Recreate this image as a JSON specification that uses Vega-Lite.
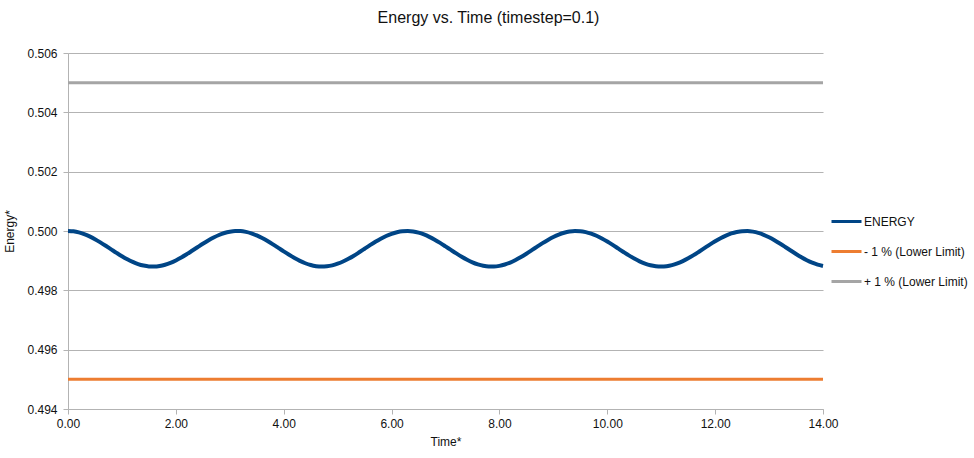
{
  "$schema": "https://vega.github.io/schema/vega-lite/v6.json",
  "autosize": "none",
  "width": 755,
  "height": 356,
  "padding": {"left": 68, "top": 53, "right": 151, "bottom": 49},
  "background": "white",
  "title": {
    "text": "Energy vs. Time (timestep=0.1)",
    "font": "Liberation Sans",
    "fontSize": 16,
    "fontWeight": "normal",
    "color": "#111111",
    "anchor": "middle",
    "dx": 43,
    "offset": 21
  },
  "config": {
    "view": {"stroke": null},
    "axis": {
      "labelFont": "Liberation Sans",
      "titleFont": "Liberation Sans",
      "labelFontSize": 12,
      "titleFontSize": 12,
      "titleFontWeight": "normal",
      "labelColor": "#111111",
      "titleColor": "#111111",
      "domainColor": "#b3b3b3",
      "tickColor": "#b3b3b3",
      "gridColor": "#b3b3b3",
      "tickSize": 5,
      "labelFlush": false,
      "labelOverlap": false
    },
    "legend": {
      "labelFont": "Liberation Sans",
      "labelFontSize": 12,
      "labelColor": "#111111"
    }
  },
  "data": {
    "values": [
      {"t": 0.0, "e": 0.500000}, {"t": 0.1, "e": 0.499988}, {"t": 0.2, "e": 0.499953}, {"t": 0.3, "e": 0.499895},
      {"t": 0.4, "e": 0.499818}, {"t": 0.5, "e": 0.499724}, {"t": 0.6, "e": 0.499617}, {"t": 0.7, "e": 0.499502},
      {"t": 0.8, "e": 0.499383}, {"t": 0.9, "e": 0.499264}, {"t": 1.0, "e": 0.499150}, {"t": 1.1, "e": 0.499047},
      {"t": 1.2, "e": 0.498958}, {"t": 1.3, "e": 0.498886}, {"t": 1.4, "e": 0.498835}, {"t": 1.5, "e": 0.498806},
      {"t": 1.6, "e": 0.498801}, {"t": 1.7, "e": 0.498820}, {"t": 1.8, "e": 0.498862}, {"t": 1.9, "e": 0.498925},
      {"t": 2.0, "e": 0.499008}, {"t": 2.1, "e": 0.499106}, {"t": 2.2, "e": 0.499216}, {"t": 2.3, "e": 0.499333},
      {"t": 2.4, "e": 0.499452}, {"t": 2.5, "e": 0.499570}, {"t": 2.6, "e": 0.499681}, {"t": 2.7, "e": 0.499781},
      {"t": 2.8, "e": 0.499866}, {"t": 2.9, "e": 0.499932}, {"t": 3.0, "e": 0.499976}, {"t": 3.1, "e": 0.499998},
      {"t": 3.2, "e": 0.499996}, {"t": 3.3, "e": 0.499970}, {"t": 3.4, "e": 0.499921}, {"t": 3.5, "e": 0.499852},
      {"t": 3.6, "e": 0.499765}, {"t": 3.7, "e": 0.499663}, {"t": 3.8, "e": 0.499551}, {"t": 3.9, "e": 0.499432},
      {"t": 4.0, "e": 0.499312}, {"t": 4.1, "e": 0.499197}, {"t": 4.2, "e": 0.499089}, {"t": 4.3, "e": 0.498993},
      {"t": 4.4, "e": 0.498913}, {"t": 4.5, "e": 0.498853}, {"t": 4.6, "e": 0.498815}, {"t": 4.7, "e": 0.498800},
      {"t": 4.8, "e": 0.498810}, {"t": 4.9, "e": 0.498842}, {"t": 5.0, "e": 0.498897}, {"t": 5.1, "e": 0.498971},
      {"t": 5.2, "e": 0.499062}, {"t": 5.3, "e": 0.499166}, {"t": 5.4, "e": 0.499282}, {"t": 5.5, "e": 0.499402},
      {"t": 5.6, "e": 0.499523}, {"t": 5.7, "e": 0.499638}, {"t": 5.8, "e": 0.499742}, {"t": 5.9, "e": 0.499833},
      {"t": 6.0, "e": 0.499906}, {"t": 6.1, "e": 0.499960}, {"t": 6.2, "e": 0.499992}, {"t": 6.3, "e": 0.499999},
      {"t": 6.4, "e": 0.499984}, {"t": 6.5, "e": 0.499944}, {"t": 6.6, "e": 0.499884}, {"t": 6.7, "e": 0.499803},
      {"t": 6.8, "e": 0.499707}, {"t": 6.9, "e": 0.499599}, {"t": 7.0, "e": 0.499482}, {"t": 7.1, "e": 0.499362},
      {"t": 7.2, "e": 0.499244}, {"t": 7.3, "e": 0.499132}, {"t": 7.4, "e": 0.499031}, {"t": 7.5, "e": 0.498944},
      {"t": 7.6, "e": 0.498876}, {"t": 7.7, "e": 0.498828}, {"t": 7.8, "e": 0.498804}, {"t": 7.9, "e": 0.498802},
      {"t": 8.0, "e": 0.498825}, {"t": 8.1, "e": 0.498871}, {"t": 8.2, "e": 0.498937}, {"t": 8.3, "e": 0.499023},
      {"t": 8.4, "e": 0.499123}, {"t": 8.5, "e": 0.499235}, {"t": 8.6, "e": 0.499353}, {"t": 8.7, "e": 0.499472},
      {"t": 8.8, "e": 0.499590}, {"t": 8.9, "e": 0.499699}, {"t": 9.0, "e": 0.499796}, {"t": 9.1, "e": 0.499878},
      {"t": 9.2, "e": 0.499940}, {"t": 9.3, "e": 0.499981}, {"t": 9.4, "e": 0.499999}, {"t": 9.5, "e": 0.499993},
      {"t": 9.6, "e": 0.499963}, {"t": 9.7, "e": 0.499911}, {"t": 9.8, "e": 0.499839}, {"t": 9.9, "e": 0.499749},
      {"t": 10.0, "e": 0.499645}, {"t": 10.1, "e": 0.499531}, {"t": 10.2, "e": 0.499412}, {"t": 10.3, "e": 0.499293},
      {"t": 10.4, "e": 0.499177}, {"t": 10.5, "e": 0.499071}, {"t": 10.6, "e": 0.498978}, {"t": 10.7, "e": 0.498902},
      {"t": 10.8, "e": 0.498845}, {"t": 10.9, "e": 0.498811}, {"t": 11.0, "e": 0.498800}, {"t": 11.1, "e": 0.498813},
      {"t": 11.2, "e": 0.498849}, {"t": 11.3, "e": 0.498908}, {"t": 11.4, "e": 0.498985}, {"t": 11.5, "e": 0.499080},
      {"t": 11.6, "e": 0.499186}, {"t": 11.7, "e": 0.499302}, {"t": 11.8, "e": 0.499422}, {"t": 11.9, "e": 0.499542},
      {"t": 12.0, "e": 0.499654}, {"t": 12.1, "e": 0.499758}, {"t": 12.2, "e": 0.499846}, {"t": 12.3, "e": 0.499917},
      {"t": 12.4, "e": 0.499966}, {"t": 12.5, "e": 0.499995}, {"t": 12.6, "e": 0.499999}, {"t": 12.7, "e": 0.499978},
      {"t": 12.8, "e": 0.499936}, {"t": 12.9, "e": 0.499872}, {"t": 13.0, "e": 0.499788}, {"t": 13.1, "e": 0.499689},
      {"t": 13.2, "e": 0.499579}, {"t": 13.3, "e": 0.499462}, {"t": 13.4, "e": 0.499342}, {"t": 13.5, "e": 0.499225},
      {"t": 13.6, "e": 0.499114}, {"t": 13.7, "e": 0.499015}, {"t": 13.8, "e": 0.498931}, {"t": 13.9, "e": 0.498866},
      {"t": 14.0, "e": 0.498823}
    ]
  },
  "encoding": {
    "x": {
      "field": "t",
      "type": "quantitative",
      "title": "Time*",
      "scale": {"domain": [0, 14], "nice": false, "zero": false},
      "axis": {"values": [0, 2, 4, 6, 8, 10, 12, 14], "format": ".2f", "grid": false, "labelPadding": 4, "titleY": 27}
    },
    "y": {
      "field": "e",
      "type": "quantitative",
      "title": "Energy*",
      "scale": {"domain": [0.494, 0.506], "nice": false, "zero": false},
      "axis": {"values": [0.494, 0.496, 0.498, 0.5, 0.502, 0.504, 0.506], "format": ".3f", "grid": true, "labelPadding": 6, "titleX": -52}
    }
  },
  "layer": [
    {
      "data": {
        "values": [
          {"t": 0, "e": 0.495, "series": "- 1 % (Lower Limit)"},
          {"t": 14, "e": 0.495, "series": "- 1 % (Lower Limit)"},
          {"t": 0, "e": 0.505, "series": "+ 1 % (Lower Limit)"},
          {"t": 14, "e": 0.505, "series": "+ 1 % (Lower Limit)"}
        ]
      },
      "mark": {"type": "line", "strokeWidth": 3},
      "encoding": {
        "color": {"field": "series", "type": "nominal"},
        "detail": {"field": "series"}
      }
    },
    {
      "transform": [{"calculate": "'ENERGY'", "as": "series"}],
      "mark": {"type": "line", "strokeWidth": 4, "interpolate": "monotone"},
      "encoding": {
        "color": {
          "field": "series",
          "type": "nominal",
          "scale": {
            "domain": ["ENERGY", "- 1 % (Lower Limit)", "+ 1 % (Lower Limit)"],
            "range": ["#004586", "#ed7d31", "#a5a5a5"]
          },
          "legend": {
            "title": null,
            "orient": "none",
            "legendX": 762,
            "legendY": 152,
            "symbolType": "stroke",
            "symbolSize": 900,
            "symbolStrokeWidth": 3,
            "rowPadding": 7,
            "labelOffset": 1
          }
        }
      }
    }
  ]
}
